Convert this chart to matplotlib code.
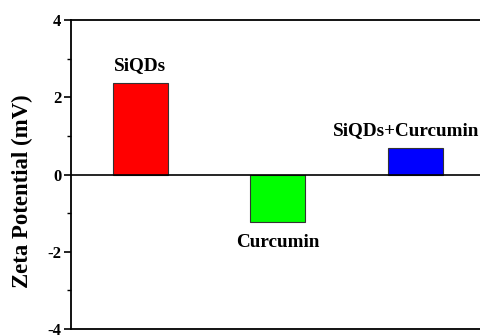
import numpy as np
import matplotlib.pyplot as plt
from matplotlib.ticker import MultipleLocator

samples = ['SiQDs', 'Curcumin', 'SiQDs+Curcumin']
zeta = [2.36, -1.22, 0.68]
colors = ['#ff0000', '#00ff00', '#0000ff']

plt.rcParams['font.family'] = 'Liberation Serif'
plt.rcParams['font.weight'] = 'bold'
plt.rcParams['axes.unicode_minus'] = False

fig = plt.figure(figsize=(4.8, 3.35), dpi=100)
ax = fig.add_axes([0.148, 0.018, 0.852, 0.922])

x = np.arange(1, len(samples) + 1)
bars = ax.bar(x, zeta, width=0.4, color=colors, edgecolor='#333333', linewidth=0.8, zorder=2)
ax.axhline(0, color='black', linewidth=1.2, zorder=3)

# labels above positive bars, below negative ones
for xi, v, name in zip(x, zeta, samples):
    if v >= 0:
        ax.text(xi, v + 0.25, name, ha='center', va='bottom', fontsize=13.8, fontweight='bold')
    else:
        ax.text(xi, v - 0.33, name, ha='center', va='top', fontsize=13.8, fontweight='bold')
ax.texts[-1].set_x(2.93)

ax.set_xlim(0.495, 3.47)
ax.set_ylim(-4, 4)
ax.yaxis.set_major_locator(MultipleLocator(2))
ax.yaxis.set_minor_locator(MultipleLocator(1))
ax.set_xticks([])
ax.tick_params(axis='y', which='major', direction='out', length=5, width=1.2, labelsize=12, pad=2)
ax.tick_params(axis='y', which='minor', direction='out', length=3, width=1.0)
ax.spines['right'].set_visible(False)
for s in ['left', 'top', 'bottom']:
    ax.spines[s].set_linewidth(1.3)
ax.set_ylabel('Zeta Potential (mV)', fontsize=16.4, fontweight='bold')
ax.yaxis.set_label_coords(-0.092, 0.445)

fig.savefig('out.png', dpi=100)
